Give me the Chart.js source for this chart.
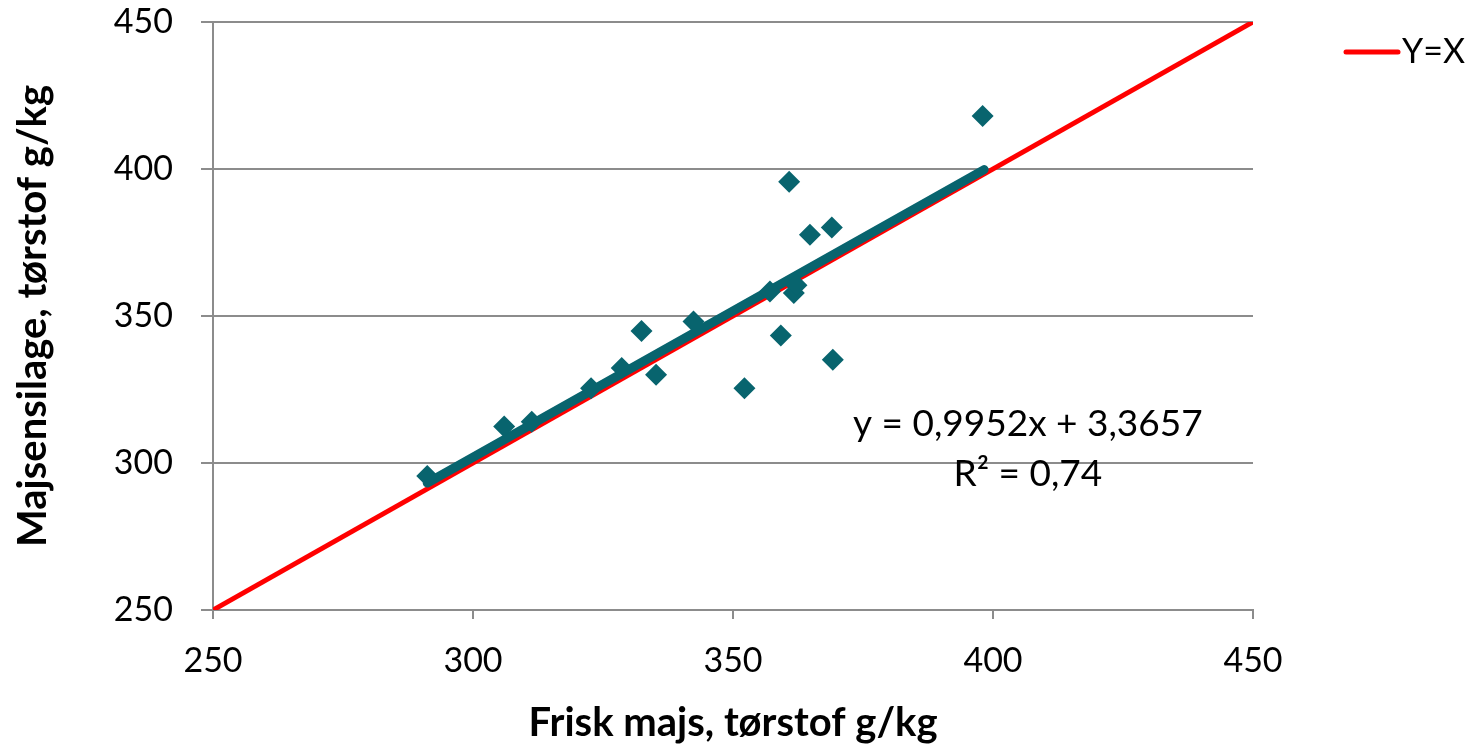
<!DOCTYPE html>
<html lang="da">
<head>
    <meta charset="UTF-8">
    <title>Frisk majs vs majsensilage</title>
    <script src="https://cdn.jsdelivr.net/npm/chart.js"></script>
    <style>
        html, body { margin: 0; padding: 0; background: #fff; }
        #wrap { width: 1471px; height: 747px; }
    </style>
</head>
<body>
    <div id="wrap"><canvas id="myChart"></canvas></div>

    <script>
        // frisk majs (x) og majsensilage (y), tørstof g/kg
        const friskMajs = [291.2, 306.0, 311.3, 322.7, 328.6, 332.4, 335.2, 342.4, 352.2, 357.1, 359.2, 360.8, 361.7, 362.2, 364.8, 369.0, 369.2, 398.0];
        const ensilage  = [295.6, 312.4, 314.0, 325.4, 332.3, 344.9, 330.0, 348.1, 325.4, 358.3, 343.4, 395.7, 357.8, 360.5, 377.6, 380.1, 335.1, 418.0];

        // tendenslinje y = 0,9952x + 3,3657 (endepunkter)
        const trendX = [291.2, 398.3];
        const trendY = [293.2, 399.8];

        // Y=X linje
        const refX = [250, 450];
        const refY = [250, 450];

        const xTicks = [250, 300, 350, 400, 450];
        const yTicks = [250, 300, 350, 400, 450];

        const trendText = ['y = 0,9952x + 3,3657', 'R² = 0,74'];
        const trendTextPos = { x: 406.7, y: [313.3, 296.3] };

        const teal = '#08646e';
        const gridColor = '#8c8c8c';
        const font = 'Lato, "Open Sans", sans-serif';

        const toPts = (xs, ys) => xs.map((x, i) => ({ x: x, y: ys[i] }));

        // tekst for ligning + egen forklaring (kun Y=X)
        const extras = {
            id: 'extras',
            afterDatasetsDraw(chart) {
                const c = chart.ctx;
                const xs = chart.scales.x, ys = chart.scales.y;
                c.save();
                c.fillStyle = '#000';
                c.font = '37px ' + font;
                c.textAlign = 'center';
                c.textBaseline = 'middle';
                trendText.forEach((t, i) => {
                    c.fillText(t, xs.getPixelForValue(trendTextPos.x), ys.getPixelForValue(trendTextPos.y[i]));
                });
                // legend
                c.strokeStyle = '#ff0000';
                c.lineWidth = 5;
                c.lineCap = 'round';
                c.beginPath();
                c.moveTo(1346, 52);
                c.lineTo(1398, 52);
                c.stroke();
                c.font = '34px ' + font;
                c.textAlign = 'left';
                c.fillText('Y=X', 1402, 52);
                c.restore();
            }
        };

        const ctx = document.getElementById('myChart').getContext('2d');

        const myChart = new Chart(ctx, {
            type: 'scatter',
            data: {
                datasets: [
                    {
                        label: 'Data',
                        data: toPts(friskMajs, ensilage),
                        pointStyle: 'rectRot',
                        pointRadius: 11,
                        pointHoverRadius: 11,
                        backgroundColor: teal,
                        borderColor: teal,
                        borderWidth: 0,
                        order: 0
                    },
                    {
                        label: 'Tendens',
                        type: 'line',
                        data: toPts(trendX, trendY),
                        borderColor: teal,
                        borderWidth: 9,
                        borderCapStyle: 'round',
                        pointRadius: 0,
                        fill: false,
                        order: 1
                    },
                    {
                        label: 'Y=X',
                        type: 'line',
                        data: toPts(refX, refY),
                        borderColor: '#ff0000',
                        backgroundColor: '#ff0000',
                        borderWidth: 5,
                        pointRadius: 0,
                        fill: false,
                        order: 2
                    }
                ]
            },
            options: {
                responsive: true,
                maintainAspectRatio: false,
                animation: false,
                layout: {
                    padding: { top: 0, right: 218, bottom: 0, left: 0 }
                },
                plugins: {
                    legend: { display: false },
                    tooltip: { enabled: false }
                },
                scales: {
                    x: {
                        type: 'linear',
                        min: 250,
                        max: 450,
                        afterBuildTicks: (scale) => { scale.ticks = xTicks.map(v => ({ value: v })); },
                        afterFit: (scale) => { scale.height = 137; },
                        grid: {
                            drawOnChartArea: false,
                            drawTicks: true,
                            tickLength: 9,
                            color: gridColor,
                            lineWidth: 2
                        },
                        border: { color: gridColor, width: 2 },
                        ticks: {
                            color: '#000',
                            font: { family: font, size: 34 },
                            padding: 22,
                            maxRotation: 0
                        },
                        title: {
                            display: true,
                            text: 'Frisk majs, tørstof g/kg',
                            color: '#000',
                            font: { family: font, size: 40, weight: 'bold' },
                            padding: { top: 0, bottom: 0 }
                        }
                    },
                    y: {
                        type: 'linear',
                        min: 250,
                        max: 450,
                        afterBuildTicks: (scale) => { scale.ticks = yTicks.map(v => ({ value: v })); },
                        afterFit: (scale) => {
                            scale.width = 213;
                            scale.paddingTop = 22;
                            scale.paddingBottom = 0;
                        },
                        grid: {
                            drawTicks: true,
                            tickLength: 12,
                            color: gridColor,
                            lineWidth: 2
                        },
                        border: { color: gridColor, width: 2 },
                        ticks: {
                            color: '#000',
                            font: { family: font, size: 34 },
                            padding: 28
                        },
                        title: {
                            display: true,
                            text: 'Majsensilage, tørstof g/kg',
                            color: '#000',
                            font: { family: font, size: 40, weight: 'bold' },
                            padding: { top: 9, bottom: 0 }
                        }
                    }
                }
            },
            plugins: [extras]
        });
    </script>
</body>
</html>
